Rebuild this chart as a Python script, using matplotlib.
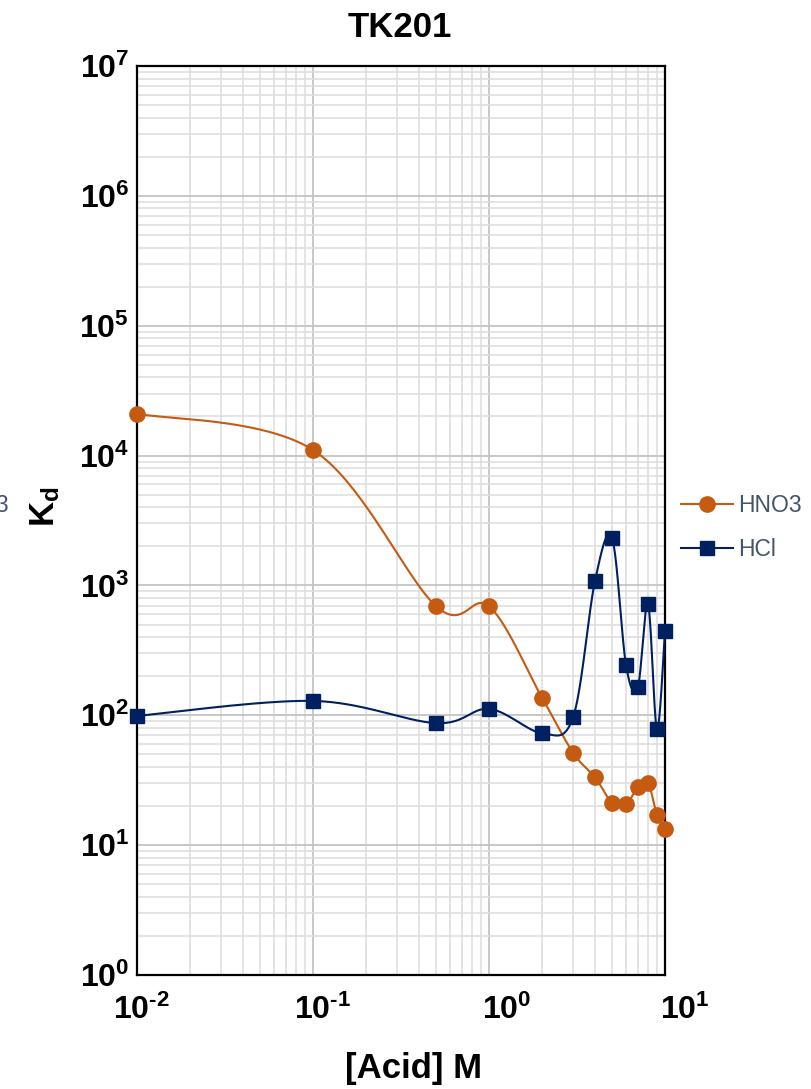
import matplotlib
matplotlib.use("Agg")
import matplotlib.pyplot as plt
import matplotlib.transforms as mtransforms
from matplotlib.lines import Line2D
from matplotlib.ticker import FixedLocator, FixedFormatter, LogLocator, NullFormatter
import numpy as np

# Dados
acido_m = [0.01, 0.1, 0.5, 1, 2, 3, 4, 5, 6, 7, 8, 9, 10]
kd_hno3 = [21000, 11000, 690, 690, 136, 51.5, 33.3, 21.2, 20.6, 27.9, 30.3, 17.1, 13.2]
kd_hcl = [99, 129, 87, 112, 72.7, 96.6, 1088, 2306, 244, 164, 719, 78, 448]

x_ticks = [0.01, 0.1, 1, 10]
x_tick_labels = ["$10^{\\text{-}2}$", "$10^{\\text{-}1}$", "$10^{0}$", "$10^{1}$"]
y_ticks = [1, 10, 100, 1e3, 1e4, 1e5, 1e6, 1e7]
y_tick_labels = ["$10^{0}$", "$10^{1}$", "$10^{2}$", "$10^{3}$",
                 "$10^{4}$", "$10^{5}$", "$10^{6}$", "$10^{7}$"]

cor_hno3 = "#C55A11"
cor_hcl = "#002060"
cor_legenda = "#44546A"

plt.rcParams["font.family"] = ["Liberation Sans", "DejaVu Sans"]
plt.rcParams["mathtext.fontset"] = "custom"
plt.rcParams["mathtext.rm"] = "Liberation Sans:bold"
plt.rcParams["mathtext.it"] = "Liberation Sans:bold"
plt.rcParams["mathtext.bf"] = "Liberation Sans:bold"


# Curva suavizada (Catmull-Rom em escala log, como a linha suave do Excel)
def curva_suave(xs, ys, n=40):
    lx = np.log10(xs)
    ly = np.log10(ys)
    pts = np.column_stack([lx, ly])
    saida = []
    for i in range(len(pts) - 1):
        p0 = pts[max(i - 1, 0)]
        p1 = pts[i]
        p2 = pts[i + 1]
        p3 = pts[min(i + 2, len(pts) - 1)]
        c1 = p1 + (p2 - p0) / 6
        c2 = p2 - (p3 - p1) / 6
        t = np.linspace(0, 1, n)[:, None]
        seg = ((1 - t) ** 3) * p1 + 3 * ((1 - t) ** 2) * t * c1 + 3 * (1 - t) * t ** 2 * c2 + t ** 3 * p2
        saida.append(seg if i == 0 else seg[1:])
    saida = np.vstack(saida)
    return 10 ** saida[:, 0], 10 ** saida[:, 1]


fig = plt.figure(figsize=(8.12, 10.89), dpi=100)
ax = fig.add_axes([137.5 / 812, 1 - 975 / 1089, 527.5 / 812, 909 / 1089])

ax.set_xscale("log")
ax.set_yscale("log")
ax.set_xlim(0.01, 10)
ax.set_ylim(1, 1e7)

# Linhas suaves
sx, sy = curva_suave(acido_m, kd_hno3)
ax.plot(sx, sy, color=cor_hno3, lw=1.5, zorder=3, clip_on=False)
sx, sy = curva_suave(acido_m, kd_hcl)
ax.plot(sx, sy, color=cor_hcl, lw=1.5, zorder=3, clip_on=False)

# Marcadores
ax.plot(acido_m, kd_hno3, linestyle="none", marker="o", markersize=11,
        color=cor_hno3, zorder=4, clip_on=False)
ax.plot(acido_m, kd_hcl, linestyle="none", marker="s", markersize=10.5,
        color=cor_hcl, zorder=5, clip_on=False)

# Eixos e grade
ax.xaxis.set_major_locator(FixedLocator(x_ticks))
ax.xaxis.set_major_formatter(FixedFormatter(x_tick_labels))
ax.yaxis.set_major_locator(FixedLocator(y_ticks))
ax.yaxis.set_major_formatter(FixedFormatter(y_tick_labels))
ax.xaxis.set_minor_locator(LogLocator(base=10, subs=np.arange(2, 10), numticks=100))
ax.yaxis.set_minor_locator(LogLocator(base=10, subs=np.arange(2, 10), numticks=100))
ax.xaxis.set_minor_formatter(NullFormatter())
ax.yaxis.set_minor_formatter(NullFormatter())

ax.grid(which="major", color="#C4C4C4", lw=1.3, zorder=0)
ax.grid(which="minor", color="#DDDDDD", lw=1.1, zorder=0)
ax.set_axisbelow(True)
ax.tick_params(which="both", length=0)
ax.tick_params(axis="x", pad=14, labelsize=23)
ax.tick_params(axis="y", pad=6, labelsize=23)
for s in ax.spines.values():
    s.set_linewidth(1.6)
    s.set_color("black")

# Deslocamento dos rótulos do eixo x (como no original)
desloc = [4, 9, 18, 20]
for lab, dx in zip(ax.get_xticklabels(), desloc):
    lab.set_transform(lab.get_transform() + mtransforms.ScaledTranslation(dx / 100, 0, fig.dpi_scale_trans))

ax.set_ylabel("$\\mathrm{K_d}$", fontsize=25)
ax.yaxis.set_label_coords(-0.143, 0.515)

fig.text(399.5 / 812, 1 - 37 / 1089, "TK201", ha="center", va="baseline",
         fontsize=25, fontweight="bold")
fig.text(413.5 / 812, 1 - 1078 / 1089, "[Acid] M", ha="center", va="baseline",
         fontsize=25, fontweight="bold")

# Legenda
handles = [
    Line2D([], [], color=cor_hno3, lw=1.5, marker="o", markersize=11),
    Line2D([], [], color=cor_hcl, lw=1.5, marker="s", markersize=10.5),
]
fig.legend(handles, ["HNO3", "HCl"], loc="center left",
           bbox_to_anchor=(681 / 812, 1 - 527.5 / 1089), bbox_transform=fig.transFigure,
           frameon=False, fontsize=16.5, labelcolor=cor_legenda, handlelength=2.25,
           handletextpad=0.25, labelspacing=0.95, borderpad=0, borderaxespad=0)

# Resto de rótulo cortado na margem esquerda
fig.text(9 / 812, 1 - 506 / 1089, "HNO3", ha="right", va="center",
         fontsize=16.5, color=cor_legenda)

fig.savefig("out.png", dpi=100)
